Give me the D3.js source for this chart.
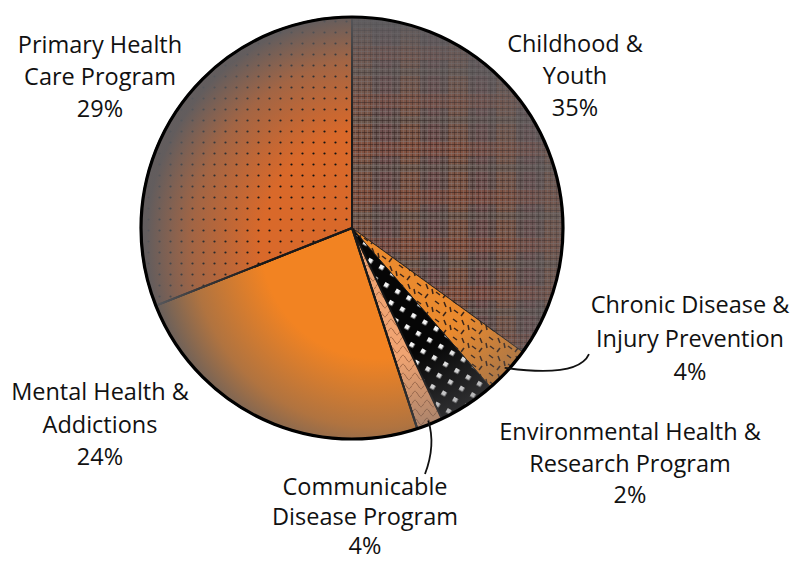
<!DOCTYPE html>
<html>
<head>
<meta charset="utf-8">
<script src="https://cdn.jsdelivr.net/npm/d3@7"></script>
<style>
  html, body { margin: 0; padding: 0; background: #fff; }
  svg { display: block; }
  text { font-family: "Open Sans", Lato, sans-serif; fill: #111; }
</style>
</head>
<body>
<svg id="chart" width="795" height="563"></svg>
<script>
// ---- data (clockwise from 12 o'clock) ----
const categories = [
  "Childhood & Youth",
  "Chronic Disease & Injury Prevention",
  "Environmental Health & Research Program",
  "Communicable Disease Program",
  "Mental Health & Addictions",
  "Primary Health Care Program"
];
// slice sizes as drawn in the picture (share of the full circle, %)
const shares = [35, 3.6, 4.4, 2, 24, 31];
// percentage text printed in each label
const pctLabels = ["35%", "4%", "2%", "4%", "24%", "29%"];
// label text lines
const labelLines = [
  ["Childhood &", "Youth"],
  ["Chronic Disease &", "Injury Prevention"],
  ["Environmental Health &", "Research Program"],
  ["Communicable", "Disease Program"],
  ["Mental Health &", "Addictions"],
  ["Primary Health", "Care Program"]
];

// ---- layout ----
const svg = d3.select("#chart");
const cx = 352, cy = 228, R = 211;
const labelPos = [
  [575, 52], [690, 313], [630, 440], [365, 495], [100, 400], [100, 53]
];
const lineH = [32, 33.5, 31.5, 29.5, 32.5, 32];

const defs = svg.append("defs");

// Plaid pattern (Childhood & Youth)
const plaid = defs.append("pattern").attr("id", "plaid")
  .attr("patternUnits", "userSpaceOnUse").attr("width", 48).attr("height", 48);
plaid.append("rect").attr("width", 48).attr("height", 48).attr("fill", "#64504d");
[[0, 0, 20, 48, "#9a5a3c"], [28, 0, 12, 48, "#7c4f52"], [0, 10, 48, 14, "#8e4e3a"], [0, 32, 48, 8, "#5d5a55"]]
  .forEach(r => plaid.append("rect").attr("x", r[0]).attr("y", r[1]).attr("width", r[2]).attr("height", r[3])
    .attr("fill", r[4]).attr("opacity", 0.45));
for (let i = 0; i < 48; i += 3) {
  plaid.append("line").attr("x1", 0).attr("x2", 48).attr("y1", i + 0.5).attr("y2", i + 0.5)
    .attr("stroke", i % 6 === 0 ? "#2a1a18" : "#8a7a78").attr("stroke-width", 1).attr("opacity", 0.5);
  plaid.append("line").attr("y1", 0).attr("y2", 48).attr("x1", i + 0.5).attr("x2", i + 0.5)
    .attr("stroke", i % 6 === 0 ? "#2a1a18" : "#8a7a78").attr("stroke-width", 1).attr("opacity", 0.4);
}

// Dots pattern (Primary Health Care)
const dots = defs.append("pattern").attr("id", "dots")
  .attr("patternUnits", "userSpaceOnUse").attr("width", 11).attr("height", 11)
  .attr("x", cx).attr("y", cy);
dots.append("rect").attr("width", 11).attr("height", 11).attr("fill", "#d9692a");
dots.append("circle").attr("cx", 5.5).attr("cy", 5.5).attr("r", 1.1).attr("fill", "#111");

// Dashes pattern (Chronic Disease)
const dash = defs.append("pattern").attr("id", "dash")
  .attr("patternUnits", "userSpaceOnUse").attr("width", 18).attr("height", 18);
dash.append("rect").attr("width", 18).attr("height", 18).attr("fill", "#ea8a2e");
[[2, 2, 4, 7], [11, 1, 15, 4], [4, 12, 1, 16], [12, 10, 16, 13], [8, 7, 9, 12]]
  .forEach(l => dash.append("line").attr("x1", l[0]).attr("y1", l[1]).attr("x2", l[2]).attr("y2", l[3])
    .attr("stroke", "#3a2418").attr("stroke-width", 1.5));

// Squares pattern (Environmental)
const squares = defs.append("pattern").attr("id", "squares")
  .attr("patternUnits", "userSpaceOnUse").attr("width", 13).attr("height", 13)
  .attr("patternTransform", "rotate(30)");
squares.append("rect").attr("width", 13).attr("height", 13).attr("fill", "#060606");
squares.append("rect").attr("x", 4).attr("y", 4).attr("width", 4.5).attr("height", 4.5).attr("fill", "#f4f4f4");

// Wavy pattern (Communicable)
const wave = defs.append("pattern").attr("id", "wave")
  .attr("patternUnits", "userSpaceOnUse").attr("width", 12).attr("height", 9);
wave.append("rect").attr("width", 12).attr("height", 9).attr("fill", "#f0a472");
wave.append("path").attr("d", "M0,4.5 C3,0 3,0 6,4.5 S9,9 12,4.5").attr("fill", "none")
  .attr("stroke", "#8a5030").attr("stroke-width", 0.7);

// Edge shading gradient
const grad = defs.append("radialGradient").attr("id", "shade")
  .attr("gradientUnits", "userSpaceOnUse")
  .attr("cx", cx + 25).attr("cy", cy + 15).attr("r", R + 20)
  .attr("fx", cx + 25).attr("fy", cy + 15);
grad.append("stop").attr("offset", 0).attr("stop-color", "#606064").attr("stop-opacity", 0);
grad.append("stop").attr("offset", 0.5).attr("stop-color", "#606064").attr("stop-opacity", 0);
grad.append("stop").attr("offset", 0.8).attr("stop-color", "#606064").attr("stop-opacity", 0.45);
grad.append("stop").attr("offset", 1).attr("stop-color", "#5c5c60").attr("stop-opacity", 0.95);

const fills = ["url(#plaid)", "url(#dash)", "url(#squares)", "url(#wave)", "#f28322", "url(#dots)"];

const pie = d3.pie().sort(null).value(d => d);
const arcs = pie(shares);
const arc = d3.arc().innerRadius(0).outerRadius(R);

const g = svg.append("g").attr("transform", `translate(${cx},${cy})`);
g.selectAll("path.slice").data(arcs).join("path")
  .attr("class", "slice")
  .attr("d", arc)
  .attr("fill", (d, i) => fills[i])
  .attr("stroke", "#151515")
  .attr("stroke-width", (d, i) => (i >= 3 ? 2 : 0.8))
  .attr("stroke-linejoin", "round");

// shading overlay
svg.append("circle").attr("cx", cx).attr("cy", cy).attr("r", R)
  .attr("fill", "url(#shade)").attr("pointer-events", "none");

// main separators on top
g.selectAll("line.sep").data(arcs.filter((d, i) => i === 4 || i === 5 || i === 0)).join("line")
  .attr("class", "sep")
  .attr("x1", 0).attr("y1", 0)
  .attr("x2", d => R * Math.sin(d.startAngle))
  .attr("y2", d => -R * Math.cos(d.startAngle))
  .attr("stroke", "#1a1a1a").attr("stroke-width", 2);

// outer rim
svg.append("circle").attr("cx", cx).attr("cy", cy).attr("r", R)
  .attr("fill", "none").attr("stroke", "#000").attr("stroke-width", 3.2);

// leader lines
const leader = (a, ex, ey, qx, qy) => {
  const mid = (arcs[a].startAngle + arcs[a].endAngle) / 2;
  const sx = cx + (R - 4) * Math.sin(mid), sy = cy - (R - 4) * Math.cos(mid);
  return `M${sx},${sy} Q${qx},${qy} ${ex},${ey}`;
};
svg.append("path").attr("d", leader(1, 589, 354, 578, 378))
  .attr("fill", "none").attr("stroke", "#111").attr("stroke-width", 1.8);
svg.append("path").attr("d", leader(3, 425, 474, 436, 445))
  .attr("fill", "none").attr("stroke", "#111").attr("stroke-width", 1.8);

// labels
const lab = svg.append("g");
categories.forEach((c, i) => {
  const t = lab.append("text").attr("text-anchor", "middle")
    .attr("font-size", 23.5);
  const lines = labelLines[i].concat([pctLabels[i]]);
  lines.forEach((s, j) => {
    t.append("tspan").attr("x", labelPos[i][0]).attr("y", labelPos[i][1] + j * lineH[i]).text(s);
  });
});
</script>
</body>
</html>
